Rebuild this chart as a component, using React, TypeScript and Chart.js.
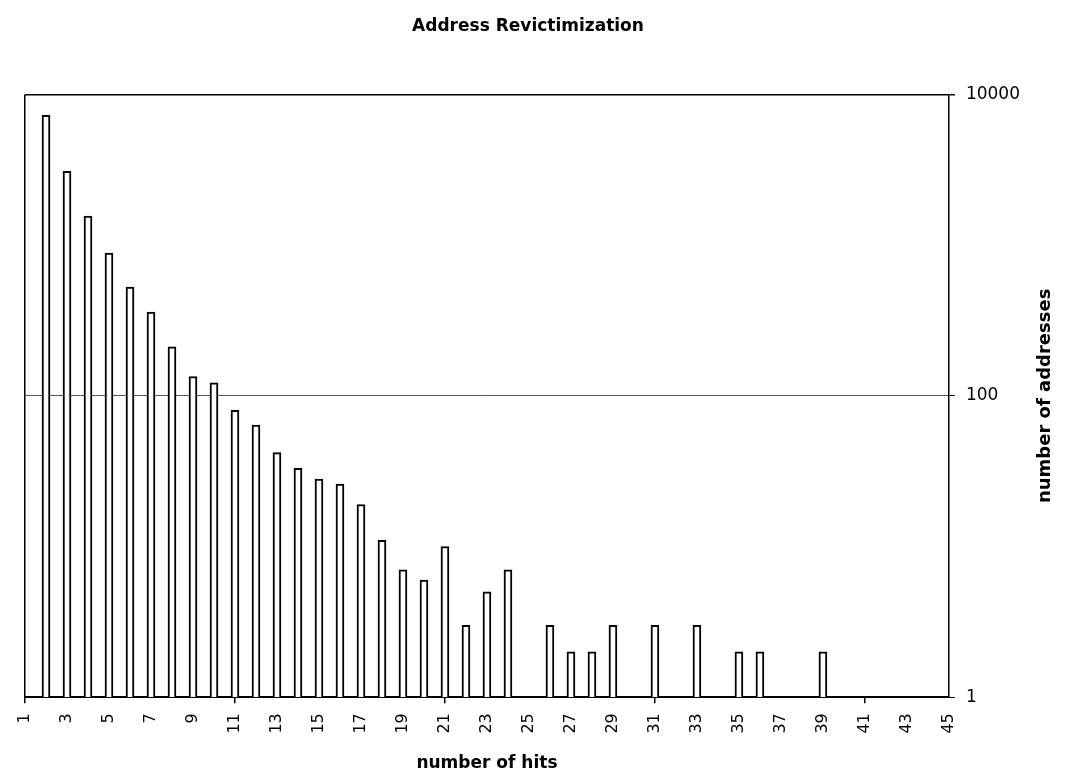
import React, { useEffect, useRef } from 'react';
import { Chart, registerables } from 'chart.js';

Chart.register(...registerables);

const chartTitle = 'Address Revictimization';
const xAxisTitle = 'number of hits';
const yAxisTitle = 'number of addresses';

const hitLabels = [
  '1', '2', '3', '4', '5', '6', '7', '8', '9', '10',
  '11', '12', '13', '14', '15', '16', '17', '18', '19', '20',
  '21', '22', '23', '24', '25', '26', '27', '28', '29', '30',
  '31', '32', '33', '34', '35', '36', '37', '38', '39', '40',
  '41', '42', '43', '44', '45',
];

const addressCounts = [
  null, 7260, 3090, 1556, 885, 527, 360, 211, 134, 122,
  80, 64, 42, 33, 28, 26, 19, 11, 7, 6,
  10, 3, 5, 7, null, 3, 2, 2, 3, null,
  3, null, 3, null, 2, 2, null, null, 2, null,
  null, null, null, null, null,
];

const yTickValues = [1, 100, 10000];
const xMajorTickLabels = ['1', '11', '21', '31', '41'];

const FONT = '"DejaVu Sans", "Liberation Sans", Arial, sans-serif';

export default function App() {
  const canvasRef = useRef<HTMLCanvasElement | null>(null);

  useEffect(() => {
    const canvas = canvasRef.current;
    if (!canvas) return;

    const rightTitlePlugin = {
      id: 'rightTitle',
      afterDraw(chart: any) {
        const { ctx, chartArea } = chart;
        ctx.save();
        ctx.font = `bold 18px ${FONT}`;
        ctx.fillStyle = '#000';
        ctx.textAlign = 'center';
        ctx.textBaseline = 'middle';
        ctx.translate(chartArea.right + 96, (chartArea.top + chartArea.bottom) / 2);
        ctx.rotate(-Math.PI / 2);
        ctx.fillText(yAxisTitle, 0, 0);
        ctx.restore();
      },
    };

    const chart = new Chart(canvas, {
      type: 'bar',
      data: {
        labels: hitLabels,
        datasets: [
          {
            data: addressCounts as any,
            backgroundColor: '#ffffff',
            borderColor: '#000000',
            borderWidth: 2,
            borderSkipped: 'bottom',
            barThickness: 8,
          },
        ],
      },
      options: {
        animation: false,
        responsive: false,
        maintainAspectRatio: false,
        layout: { padding: { left: 25, right: 34, top: 0, bottom: 4 } },
        plugins: {
          legend: { display: false },
          tooltip: { enabled: false },
          title: {
            display: true,
            text: chartTitle,
            color: '#000',
            font: { family: FONT, size: 17, weight: 'bold' },
            padding: { top: 16, bottom: 58 },
          },
        },
        scales: {
          x: {
            type: 'category',
            offset: false,
            grid: {
              offset: false,
              drawOnChartArea: true,
              drawTicks: true,
              tickLength: 6,
              color: (c: any) => (c.index === 0 ? '#000' : 'rgba(0,0,0,0)'),
              tickColor: (c: any) =>
                xMajorTickLabels.includes(hitLabels[c.index]) ? '#000' : 'rgba(0,0,0,0)',
              lineWidth: 1.5,
            },
            border: { display: true, color: '#000', width: 2 },
            ticks: {
              autoSkip: false,
              minRotation: 90,
              maxRotation: 90,
              padding: 10,
              color: '#000',
              font: { family: FONT, size: 16 },
              callback: (_v: any, i: number) => (i % 2 === 0 ? hitLabels[i] : ''),
            },
            title: {
              display: true,
              text: xAxisTitle,
              color: '#000',
              font: { family: FONT, size: 17, weight: 'bold' },
              padding: { top: 10, bottom: 4 },
            },
          },
          y: {
            type: 'logarithmic',
            position: 'right',
            min: 1,
            max: 10000,
            afterBuildTicks: (axis: any) => {
              axis.ticks = yTickValues.map((v) => ({ value: v }));
            },
            grid: {
              drawTicks: true,
              tickLength: 6,
              color: (c: any) => {
                const v = c.tick && c.tick.value;
                if (v === 100) return '#555';
                if (v === 10000) return '#000';
                return 'rgba(0,0,0,0)';
              },
              lineWidth: (c: any) => (c.tick && c.tick.value === 10000 ? 1.5 : 1),
              tickColor: '#000',
            },
            border: { display: true, color: '#000', width: 1.5 },
            ticks: {
              padding: 11,
              color: '#000',
              font: { family: FONT, size: 17 },
              callback: (v: any) => String(v),
            },
          },
        },
      },
      plugins: [rightTitlePlugin],
    });

    return () => chart.destroy();
  }, []);

  return (
    <div style={{ position: 'absolute', left: 0, top: 0, width: 1065, height: 782, background: '#fff' }}>
      <canvas ref={canvasRef} width={1065} height={782} />
    </div>
  );
}
